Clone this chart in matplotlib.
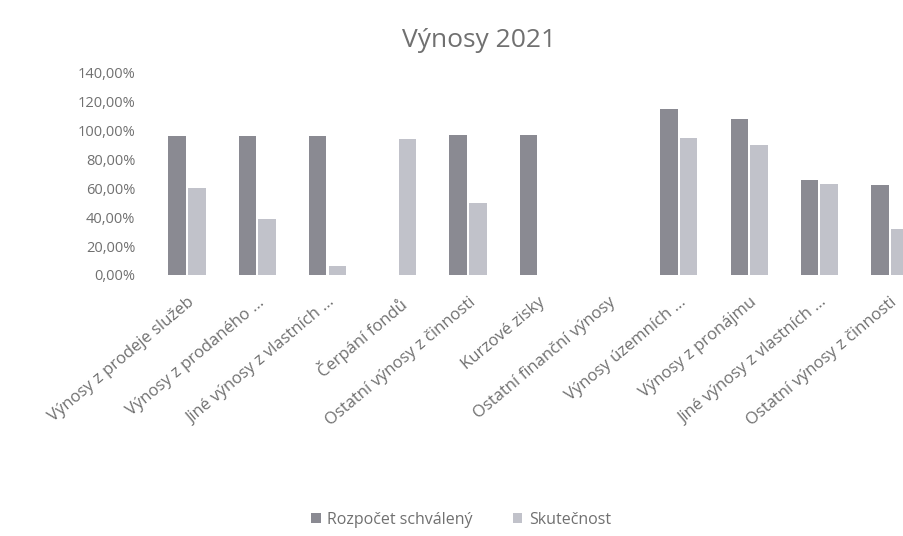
import matplotlib.pyplot as plt
import numpy as np
from matplotlib.ticker import FuncFormatter

categories = [
    "Výnosy z prodeje služeb",
    "Výnosy z prodaného ...",
    "Jiné výnosy z vlastních ...",
    "Čerpání fondů",
    "Ostatní výnosy z činnosti",
    "Kurzové zisky",
    "Ostatní finanční výnosy",
    "Výnosy územních ...",
    "Výnosy z pronájmu",
    "Jiné výnosy z vlastních ...",
    "Ostatní výnosy z činnosti",
]
rozpocet = [96, 96, 96, 0, 97, 97, 0, 115, 108, 66, 62]
skutecnost = [60, 39, 6, 94, 50, 0, 0, 95, 90, 63, 32]
yticks = [0, 20, 40, 60, 80, 100, 120, 140]

plt.rcParams['font.family'] = ['Open Sans', 'DejaVu Sans']
text_color = '#707070'

fig = plt.figure(figsize=(9.04, 5.36), dpi=100)
ax = fig.add_axes([0.168, 0.487, 0.855, 0.377])

x = np.arange(len(categories))
w = 0.25
ax.bar(x - 0.14, rozpocet, w, color='#8a8a92', label='Rozpočet schválený')
ax.bar(x + 0.14, skutecnost, w, color='#c1c2ca', label='Skutečnost')

ax.set_xlim(-0.5, len(categories) - 0.5)
ax.set_ylim(0, 140)
ax.set_yticks(yticks)
ax.yaxis.set_major_formatter(FuncFormatter(lambda v, p: f"{v:.2f}%".replace('.', ',')))
ax.set_xticks(x)
ax.set_xticklabels(categories, rotation=40, ha='right', rotation_mode='anchor')
ax.tick_params(axis='both', length=0, colors=text_color, labelsize=10.5)
ax.tick_params(axis='x', labelsize=12, pad=14)
ax.tick_params(axis='y', pad=12)
for s in ax.spines.values():
    s.set_visible(False)

fig.text(0.53, 0.925, "Výnosy 2021", ha='center', va='center', fontsize=19, color=text_color)
fig.legend(loc='center', bbox_to_anchor=(0.51, 0.03), ncol=2, frameon=False,
           fontsize=11.5, labelcolor=text_color, handlelength=0.6, handleheight=0.6,
           columnspacing=2.5, handletextpad=0.4)

fig.savefig('out.png', dpi=100)
